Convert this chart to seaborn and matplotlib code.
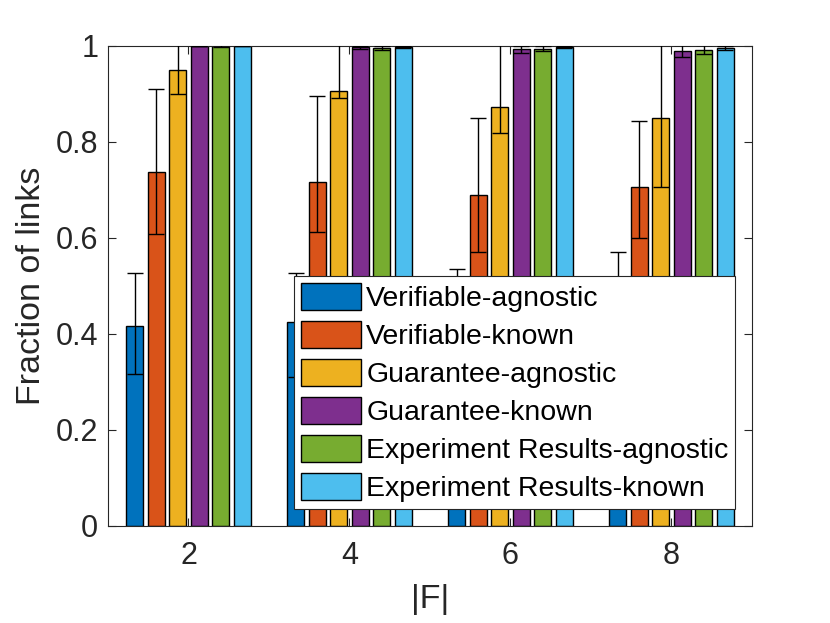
import matplotlib
matplotlib.use('Agg')
import matplotlib.pyplot as plt
import pandas as pd
import seaborn as sns

# |F| values on the x axis
sizes_f = [2, 4, 6, 8]
series_names = ['Verifiable-agnostic', 'Verifiable-known', 'Guarantee-agnostic',
                'Guarantee-known', 'Experiment Results-agnostic', 'Experiment Results-known']

# mean fraction of links per series
ver_agnostic = [0.417, 0.424, 0.43, 0.45]
ver_known = [0.737, 0.717, 0.69, 0.707]
gua_agnostic = [0.95, 0.907, 0.872, 0.85]
gua_known = [1.0, 0.997, 0.993, 0.989]
exp_agnostic = [1.0, 0.995, 0.994, 0.992]
exp_known = [1.0, 0.998, 0.997, 0.996]

# lower / upper error lengths
ver_agnostic_lo = [0.10, 0.114, 0.10, 0.10]
ver_agnostic_hi = [0.111, 0.104, 0.105, 0.121]
ver_known_lo = [0.128, 0.105, 0.119, 0.107]
ver_known_hi = [0.173, 0.178, 0.16, 0.136]
gua_agnostic_lo = [0.051, 0.015, 0.053, 0.144]
gua_agnostic_hi = [0.06, 0.12, 0.15, 0.16]
gua_known_lo = [0.0, 0.003, 0.007, 0.013]
gua_known_hi = [0.0, 0.003, 0.007, 0.013]
exp_agnostic_lo = [0.002, 0.004, 0.005, 0.009]
exp_agnostic_hi = [0.002, 0.004, 0.005, 0.009]
exp_known_lo = [0.001, 0.002, 0.002, 0.004]
exp_known_hi = [0.001, 0.002, 0.002, 0.004]

colors = ['#0072BD', '#D95319', '#EDB120', '#7E2F8E', '#77AC30', '#4DBEEE']

values = [ver_agnostic, ver_known, gua_agnostic, gua_known, exp_agnostic, exp_known]
lows = [ver_agnostic_lo, ver_known_lo, gua_agnostic_lo, gua_known_lo, exp_agnostic_lo, exp_known_lo]
highs = [ver_agnostic_hi, ver_known_hi, gua_agnostic_hi, gua_known_hi, exp_agnostic_hi, exp_known_hi]

rows = []
for name, vals in zip(series_names, values):
    for f, v in zip(sizes_f, vals):
        rows.append({'F': str(f), 'serie': name, 'valor': v})
df = pd.DataFrame(rows)

sns.set_theme(style='ticks')
plt.rcParams['font.family'] = ['Liberation Sans', 'DejaVu Sans']
gris = '#262626'

fig, ax = plt.subplots(figsize=(8.3, 6.23), dpi=100)
fig.subplots_adjust(left=0.1301, right=0.906, bottom=0.1557, top=0.9262)

sns.barplot(data=df, x='F', y='valor', hue='serie', hue_order=series_names,
            palette=colors, errorbar=None, gap=0.2, width=0.8,
            edgecolor='black', linewidth=1.0, saturation=1, ax=ax)

for cont, lo, hi in zip(ax.containers, lows, highs):
    xs = [p.get_x() + p.get_width() / 2 for p in cont]
    ys = [p.get_height() for p in cont]
    ax.errorbar(xs, ys, yerr=[lo, hi], fmt='none', ecolor='black',
                elinewidth=1.0, capsize=6, capthick=1.0, zorder=5)

ax.set_xlim(-0.5, 3.5)
ax.set_ylim(0, 1)
ax.set_yticks([0, 0.2, 0.4, 0.6, 0.8, 1.0])
ax.set_yticklabels(['0', '0.2', '0.4', '0.6', '0.8', '1'])

for s in ax.spines.values():
    s.set_visible(True)
    s.set_color(gris)
    s.set_linewidth(0.8)

ax.tick_params(axis='both', direction='in', length=6, width=0.8, color=gris,
               labelcolor=gris, labelsize=22, top=True, right=True)
ax.tick_params(axis='x', pad=11)
ax.tick_params(axis='y', pad=7)

ax.set_xlabel('|F|', fontsize=24.5, color=gris)
ax.set_ylabel('Fraction of links', fontsize=24.5, color=gris)
ax.xaxis.set_label_coords(0.5, -0.12)
ax.yaxis.set_label_coords(-0.095, 0.5)

leg = ax.legend(loc='lower right', bbox_to_anchor=(0.974, 0.035), fontsize=20.5,
                frameon=True, fancybox=False, framealpha=1, edgecolor=gris,
                handlelength=2.1, handleheight=1.08, handletextpad=0.18,
                labelspacing=0.31, borderpad=0.24, borderaxespad=0)
leg.get_frame().set_linewidth(0.8)
leg.set_zorder(10)
for t in leg.get_texts():
    t.set_color('black')

plt.savefig('out.png', dpi=100)
plt.close(fig)
